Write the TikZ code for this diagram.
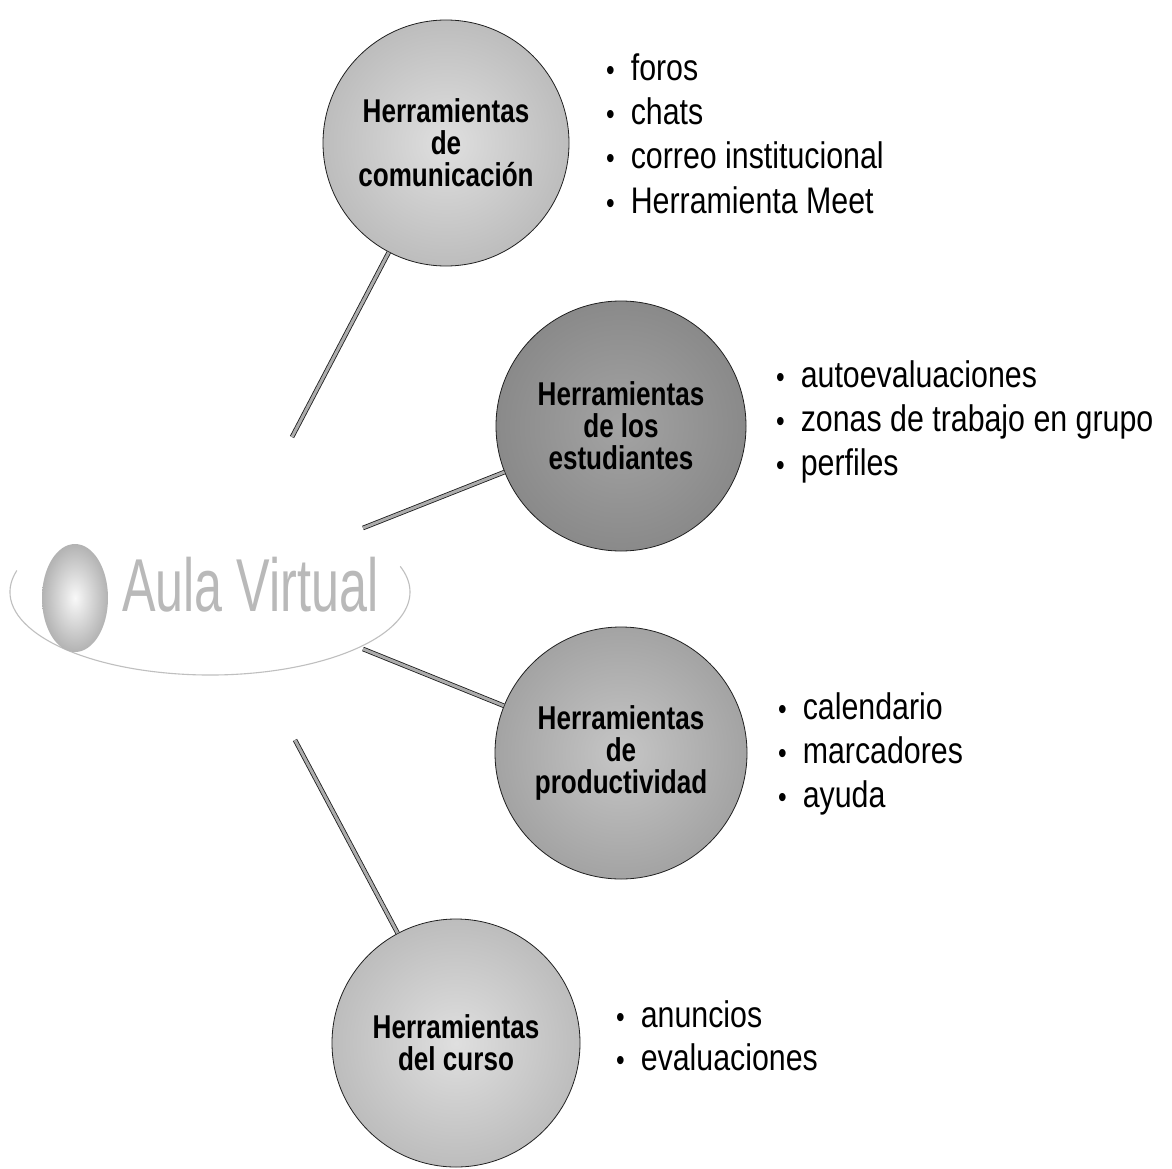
\documentclass[tikz,border=0pt]{standalone}
\usepackage{fontspec}
\usetikzlibrary{calc}
\setmainfont{Liberation Sans}
\newfontfamily\listfont[FakeStretch=0.82]{Liberation Sans}
\newfontfamily\circfont[FakeStretch=0.79]{Liberation Sans}
\newfontfamily\aulafont[FakeStretch=0.67]{Liberation Sans}
\tikzset{
  hub/.style={circle, inner sep=0pt, draw=gray!25!black, line width=0.8pt,
    align=center, font=\circfont\bfseries\fontsize{33}{32}\selectfont},
  item/.style={anchor=base west, inner sep=0pt,
    font=\listfont\fontsize{37}{44}\selectfont},
  conn/.style={draw=gray!20!black, line width=0.8pt, double=gray!65, double distance=3pt},
}
\newcommand{\bul}[1]{{\fontsize{30}{30}\selectfont\textbullet}\hspace{16pt}#1}
\begin{document}
\begin{tikzpicture}[x=1pt,y=-1pt]
\useasboundingbox[fill=white] (0,0) rectangle (1172,1169);

% Aula Virtual
\draw[gray!50, line width=1.1pt] ($(210,592)+(195:200 and 83)$) arc[start angle=195, end angle=-18, x radius=200, y radius=83];
\shade[inner color=gray!5, outer color=gray!60] (75,598) ellipse [x radius=33, y radius=54];
\node[anchor=base west, inner sep=0pt, font=\aulafont\fontsize{75}{75}\selectfont, text=gray!55] (aula) at (122,611) {Aula Virtual};

% circles
\node[hub, minimum size=246pt, inner color=gray!25, outer color=gray!52] (c1) at (446,143) {Herramientas\\de\\comunicación};
\node[hub, minimum size=250pt, inner color=gray!72, outer color=gray!92] (c2) at (621,426) {Herramientas\\de los\\estudiantes};
\node[hub, minimum size=252pt, inner color=gray!45, outer color=gray!72] (c3) at (621,753) {Herramientas\\de\\productividad};
\node[hub, minimum size=248pt, inner color=gray!25, outer color=gray!52] (c4) at (456,1043) {Herramientas\\del curso};

% connectors
\coordinate (p1) at (292,437);
\coordinate (p2) at (363,528);
\coordinate (p3) at (363,649);
\coordinate (p4) at (295,740);
\draw[conn] (p1) -- (c1);
\draw[conn] (p2) -- (c2);
\draw[conn] (p3) -- (c3);
\draw[conn] (p4) -- (c4);

% lists
\node[item] (a1) at (606,81) {\bul{foros}};
\node[item] (a2) at (606,125) {\bul{chats}};
\node[item] (a3) at (606,169) {\bul{correo institucional}};
\node[item] (a4) at (606,213) {\bul{Herramienta Meet}};

\node[item] (b1) at (776,387) {\bul{autoevaluaciones}};
\node[item] (b2) at (776,431) {\bul{zonas de trabajo en grupo}};
\node[item] (b3) at (776,475) {\bul{perfiles}};

\node[item] (d1) at (778,719) {\bul{calendario}};
\node[item] (d2) at (778,763) {\bul{marcadores}};
\node[item] (d3) at (778,807) {\bul{ayuda}};

\node[item] (e1) at (616,1027) {\bul{anuncios}};
\node[item] (e2) at (616,1070) {\bul{evaluaciones}};
\end{tikzpicture}
\end{document}
